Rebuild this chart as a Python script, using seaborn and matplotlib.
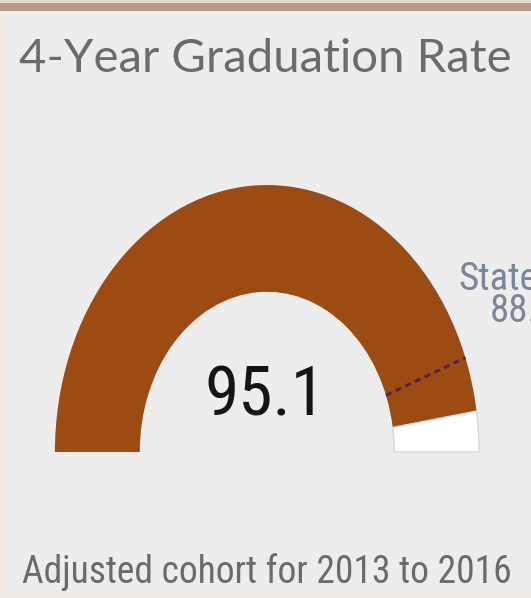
import numpy as np
import matplotlib
matplotlib.use("Agg")
import matplotlib.pyplot as plt
from matplotlib.patches import Wedge, Rectangle
import seaborn as sns

# Gauge data
school_rate = 95.1
state_rate = 88.5
gauge_max = 100
title = "4-Year Graduation Rate"
footnote = "Adjusted cohort for 2013 to 2016"

sns.set_style("white")
plt.rcParams['font.family'] = ['Roboto Condensed', 'Noto Sans', 'DejaVu Sans']

bg = '#ededed'
brown = '#9c4b12'

fig = plt.figure(figsize=(5.31, 5.98), dpi=100)
fig.patch.set_facecolor(bg)
ax = fig.add_axes([0, 0, 1, 1])
ax.set_facecolor(bg)
ax.set_xlim(-1.259, 1.245)
ax.set_ylim(-0.547, 1.693)
ax.axis('off')

def angle(v):
    return 180 * (1 - v / gauge_max)

# filled part of the gauge
ax.add_patch(Wedge((0, 0), 1.0, angle(school_rate), 180, width=0.4,
                   facecolor=brown, edgecolor='none'))
# remaining part
ax.add_patch(Wedge((0, 0), 1.0, 0, angle(school_rate), width=0.4,
                   facecolor='white', edgecolor='#d8d8d8', lw=1))

# state marker
a = np.deg2rad(angle(state_rate))
ax.plot([0.6 * np.cos(a), 1.0 * np.cos(a)], [0.6 * np.sin(a), 1.0 * np.sin(a)],
        color='#5b1f4f', lw=2.2, ls=(0, (2, 1.5)))

# frame: top band and faint edges
fig.add_artist(Rectangle((0, 1 - 11 / 598), 1, 11 / 598, transform=fig.transFigure,
                         facecolor='#b49888', edgecolor='none'))
fig.add_artist(Rectangle((0, 1 - 3 / 598), 1, 3 / 598, transform=fig.transFigure,
                         facecolor='#e9dccd', edgecolor='none'))
fig.add_artist(Rectangle((0, 0), 3 / 531, 1 - 11 / 598, transform=fig.transFigure,
                         facecolor='#f4ebe3', edgecolor='none'))
fig.add_artist(Rectangle((0, 0), 1, 3 / 598, transform=fig.transFigure,
                         facecolor='#f4ebe3', edgecolor='none'))

fig.text(0.035, 1 - 59 / 598, title, fontsize=34, color='#6b6b6b',
         family=['Lato', 'DejaVu Sans'], va='center', ha='left')

fig.text(265 / 531, 1 - 396 / 598, f"{school_rate}", fontsize=50, color='#151515',
         va='center', ha='center')

fig.text(458 / 531, 1 - 279 / 598, "State", fontsize=28, color='#7b8799',
         va='center', ha='left')
fig.text(490 / 531, 1 - 311 / 598, f"{state_rate}", fontsize=28, color='#7b8799',
         va='center', ha='left')

fig.text(22 / 531, 1 - 572 / 598, footnote, fontsize=27, color='#6b6b6b',
         va='center', ha='left')

fig.savefig("out.png", dpi=100, facecolor=bg)
